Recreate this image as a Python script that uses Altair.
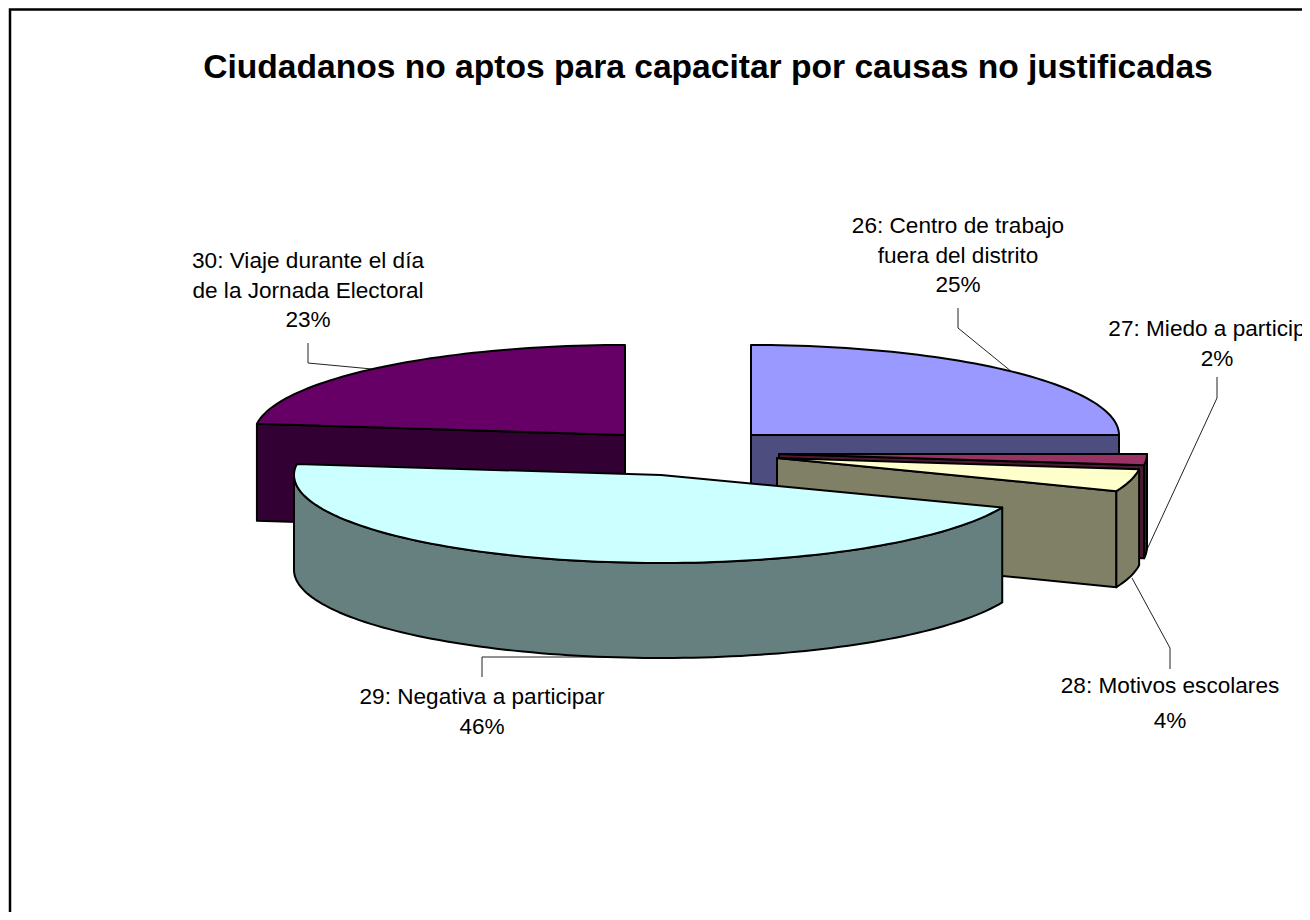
import math
import altair as alt
import pandas as pd

# ---- data ----
CODES = ["26", "27", "28", "29", "30"]
CAUSES = ["Centro de trabajo fuera del distrito", "Miedo a participar", "Motivos escolares",
          "Negativa a participar", "Viaje durante el día de la Jornada Electoral"]
PERCENT = [25, 2, 4, 46, 23]
TITLE = "Ciudadanos no aptos para capacitar por causas no justificadas"
LABEL_LINES = [
    ["26: Centro de trabajo", "fuera del distrito", "25%"],
    ["27: Miedo a participar", "2%"],
    ["28: Motivos escolares", "4%"],
    ["29: Negativa a participar", "46%"],
    ["30: Viaje durante el día", "de la Jornada Electoral", "23%"],
]

# ---- styling and layout (page pixels) ----
TOP_COLORS = ["#9999FF", "#993366", "#FFFFCC", "#CCFFFF", "#660066"]
SIDE_COLORS = ["#4D4D80", "#4D1A33", "#808066", "#668080", "#330033"]
APEX = [(751, 435), (779, 454), (777, 458), (661, 475), (625, 435)]
RXS = [368, 368, 365, 367, 371]
RYS = [90, 90, 90, 88, 90]
DEPTH = [92, 93, 96, 95, 97]
LABEL_POS = [(958, 226), (1217, 329), (1170, 686), (482, 697), (308, 261)]
LINE_STEP = [29.5, 29.5, 35, 30, 29.5]
LEADERS = [
    [(958, 308), (958, 328), (1012, 372)],
    [(1217, 377), (1217, 398), (1144, 556)],
    [(1170, 669), (1170, 648), (1132, 578)],
    [(482, 677), (482, 657), (612, 657)],
    [(308, 343), (308, 363), (372, 369)],
]
W, H = 1294, 904
OFF = 8


def pt(x, y):
    return [x - OFF, y - OFF]


def rim(i, a, b):
    apex = APEX[i]
    n = max(2, int(abs(b - a) / 1.5))
    out = []
    for k in range(n + 1):
        t = math.radians(a + (b - a) * k / n)
        out.append((apex[0] + RXS[i] * math.sin(t), apex[1] - RYS[i] * math.cos(t)))
    return out


def poly(points, fill):
    ring = [pt(*p) for p in points]
    ring.append(ring[0])
    return {"type": "Feature", "properties": {"fill": fill},
            "geometry": {"type": "Polygon", "coordinates": [ring]}}


def line(points):
    return {"type": "Feature", "properties": {},
            "geometry": {"type": "LineString", "coordinates": [pt(*p) for p in points]}}


# slice angles follow the percentages, clockwise from the top
starts, acc = [], 0
for v in PERCENT:
    starts.append(acc * 3.6)
    acc += v
ends = [s + v * 3.6 for s, v in zip(starts, PERCENT)]

features = []
for i in [0, 4, 1, 2, 3]:  # back slices first
    apex, a, b, d = APEX[i], starts[i], ends[i], DEPTH[i]
    top = TOP_COLORS[i]
    side = SIDE_COLORS[i]
    arc = rim(i, a, b)
    if 0 < b <= 180 and a >= 90:  # right-hand front slices: cut face at the far end
        e = arc[-1]
        features.append(poly([apex, e, (e[0], e[1] + d), (apex[0], apex[1] + d)], side))
    if i == 0:
        e = arc[-1]
        features.append(poly([apex, e, (e[0], e[1] + d), (apex[0], apex[1] + d)], side))
    if i == 4:
        s = arc[0]
        features.append(poly([apex, s, (s[0], s[1] + d), (apex[0], apex[1] + d)], side))
    # visible outer wall
    lo, hi = max(a, 90), min(b, 270)
    if hi > lo and i != 0 and i != 4:
        wall = rim(i, lo, hi)
        features.append(poly(wall + [(x, y + d) for x, y in reversed(wall)], side))
    features.append(poly([apex] + arc, top))

rows = []
for lines, (x, y), step in zip(LABEL_LINES, LABEL_POS, LINE_STEP):
    for k, txt in enumerate(lines):
        px, py = pt(x, y + k * step)
        rows.append({"lon": px, "lat": py, "text": txt})
labels = pd.DataFrame(rows)
title_df = pd.DataFrame([{"lon": pt(708, 68)[0], "lat": pt(708, 68)[1], "text": TITLE}])


def collection(fs):
    return alt.InlineData(values={"type": "FeatureCollection", "features": fs},
                          format=alt.DataFormat(property="features", type="json"))


border = alt.Chart(collection([line([(10, 930), (10, 9.5), (1320, 9.5)])])).mark_geoshape(
    filled=False, stroke="black", strokeWidth=2.5, clip=True)

leaders = alt.Chart(collection([line(l) for l in LEADERS])).mark_geoshape(
    filled=False, stroke="#222222", strokeWidth=1)

pie = alt.Chart(collection(features)).mark_geoshape(
    stroke="black", strokeWidth=2, strokeJoin="round").encode(
    fill=alt.Fill("properties.fill:N", scale=None, legend=None))

text = alt.Chart(labels).mark_text(
    font="Liberation Sans", fontSize=22.6, color="black", align="center", baseline="middle", clip=True
).encode(longitude="lon:Q", latitude="lat:Q", text="text:N")

title = alt.Chart(title_df).mark_text(
    font="Liberation Sans", fontSize=33.6, fontWeight="bold", color="black", align="center", baseline="middle"
).encode(longitude="lon:Q", latitude="lat:Q", text="text:N")

chart = alt.layer(border, leaders, pie, text, title).project(
    type="identity", scale=1, translate=[0, 0]
).properties(
    width=W, height=H, padding=0, autosize=alt.AutoSizeParams(type="none"),
    background="white"
).configure_view(stroke=None)

chart.save("out.html", embed_options={"renderer": "svg", "actions": False})
